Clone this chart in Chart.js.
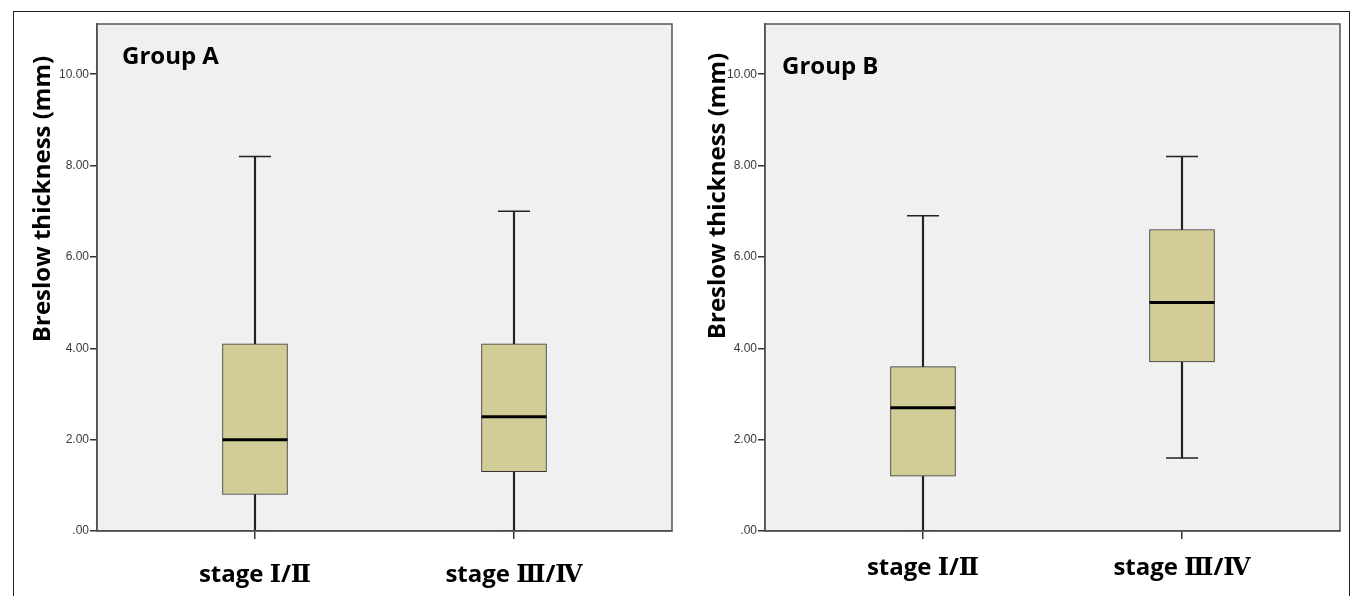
<!DOCTYPE html>
<html>
<head>
<meta charset="utf-8">
<script src="https://cdn.jsdelivr.net/npm/chart.js@4.4.1/dist/chart.umd.min.js"></script>
<style>
  html, body { margin:0; padding:0; background:#fff; width:1352px; height:596px; overflow:hidden; }
  #frame { position:absolute; left:13px; top:11px; width:1335px; height:620px;
           border-left:1px solid #222; border-top:1px solid #222; border-right:1px solid #222; }
  .wrap { position:absolute; top:0; height:596px; }
  #wa { left:0; width:690px; }
  #wb { left:690px; width:662px; }
  canvas { display:block; }
</style>
</head>
<body>
<div id="frame"></div>
<div class="wrap" id="wa"><canvas id="ca" width="690" height="596"></canvas></div>
<div class="wrap" id="wb"><canvas id="cb" width="662" height="596"></canvas></div>
<script>
// ---- data ----
const categories = ['stage Ⅰ/Ⅱ', 'stage Ⅲ/Ⅳ'];
const yTickValues = [0, 2, 4, 6, 8, 10];
const yTickLabels = ['.00', '2.00', '4.00', '6.00', '8.00', '10.00'];
const yAxisTitle = 'Breslow thickness (mm)';

const groupA_name   = 'Group A';
const groupA_min    = [0.0, 0.0];
const groupA_q1     = [0.8, 1.3];
const groupA_median = [2.0, 2.5];
const groupA_q3     = [4.1, 4.1];
const groupA_max    = [8.2, 7.0];

const groupB_name   = 'Group B';
const groupB_min    = [0.0, 1.6];
const groupB_q1     = [1.2, 3.7];
const groupB_median = [2.7, 5.0];
const groupB_q3     = [3.6, 6.6];
const groupB_max    = [6.9, 8.2];

// ---- styles ----
const BOX_FILL = '#d2cd96';
const LINE = '#222';
const PLOT_BG = '#f0f0f0';
const BOLD_FONT = "'Open Sans', 'DejaVu Serif', 'Noto Sans CJK KR', sans-serif";

function xy(vals) { return vals.map((v, i) => ({ x: i + 1, y: v })); }
function rng(a, b) { return a.map((v, i) => ({ x: i + 1, y: [v, b[i]] })); }

const panelPlugin = {
  id: 'panel',
  beforeDraw(chart) {
    const a = chart.chartArea, ctx = chart.ctx;
    ctx.save();
    ctx.fillStyle = PLOT_BG;
    ctx.fillRect(a.left, a.top, a.right - a.left, a.bottom - a.top);
    ctx.restore();
  },
  afterDraw(chart) {
    const a = chart.chartArea, ctx = chart.ctx, o = chart.options.plugins.panel;
    ctx.save();
    ctx.strokeStyle = '#555';
    ctx.lineWidth = 1.5;
    ctx.strokeRect(a.left, a.top, a.right - a.left, a.bottom - a.top);
    // group label
    ctx.fillStyle = '#000';
    ctx.font = "bold 24px " + BOLD_FONT;
    ctx.textBaseline = 'alphabetic';
    ctx.textAlign = 'left';
    ctx.fillText(o.label, a.left + o.labelDx, o.labelY);
    // y axis title
    ctx.translate(o.titleX, o.titleY);
    ctx.rotate(-Math.PI / 2);
    ctx.textAlign = 'center';
    ctx.textBaseline = 'middle';
    ctx.font = "bold 24px " + BOLD_FONT;
    ctx.fillText(yAxisTitle, 0, 0);
    ctx.restore();
  }
};

function makeChart(id, mins, q1s, meds, q3s, maxs, cfg) {
  return new Chart(document.getElementById(id), {
    type: 'bar',
    data: {
      datasets: [
        { type: 'bar', data: rng(mins, q1s), grouped: false, barThickness: 1.5,
          backgroundColor: LINE, borderWidth: 0, order: 5 },
        { type: 'bar', data: rng(q3s, maxs), grouped: false, barThickness: 1.5,
          backgroundColor: LINE, borderWidth: 0, order: 5 },
        { type: 'bar', data: rng(q1s, q3s), grouped: false, barThickness: 65,
          backgroundColor: BOX_FILL, borderColor: '#333', borderWidth: 1,
          borderSkipped: false, order: 4 },
        { type: 'scatter', data: xy(meds), pointStyle: 'line', pointRadius: 32.5,
          pointHoverRadius: 32.5, borderColor: '#000', borderWidth: 3, order: 1 },
        { type: 'scatter', data: xy(maxs), pointStyle: 'line', pointRadius: 16,
          pointHoverRadius: 16, borderColor: LINE, borderWidth: 1.5, order: 2 },
        { type: 'scatter', data: xy(mins), pointStyle: 'line', pointRadius: 16,
          pointHoverRadius: 16, borderColor: LINE, borderWidth: 1.5, order: 2 }
      ]
    },
    options: {
      responsive: false,
      animation: false,
      events: [],
      layout: { autoPadding: false, padding: { top: cfg.padTop, right: cfg.padRight, left: 0, bottom: 0 } },
      plugins: {
        legend: { display: false },
        tooltip: { enabled: false },
        panel: cfg.panel
      },
      scales: {
        x: {
          type: 'linear', min: 0.39, max: 2.61, offset: false,
          afterFit(s) { s.height = 65; },
          afterBuildTicks(s) { s.ticks = categories.map((c, i) => ({ value: i + 1 })); },
          grid: { offset: false, drawOnChartArea: false, drawTicks: true, tickLength: 8, color: '#333', lineWidth: 1.5 },
          border: { display: true, color: '#444', width: 1.5 },
          ticks: {
            autoSkip: false, maxRotation: 0, padding: cfg.xPad, color: '#000',
            font: { family: BOLD_FONT, size: 24, weight: 'bold' },
            callback: (v) => categories[Math.round(v) - 1]
          }
        },
        y: {
          min: 0, max: 11.1,
          afterFit(s) { s.width = cfg.yWidth; },
          afterBuildTicks(s) { s.ticks = yTickValues.map(v => ({ value: v })); },
          grid: { drawOnChartArea: false, drawTicks: true, tickLength: 7, color: '#333', lineWidth: 1.5 },
          border: { display: true, color: '#444', width: 1.5 },
          ticks: {
            padding: 1, color: '#3a3a3a',
            font: { family: "'Liberation Sans', Arial, sans-serif", size: 12 },
            callback: (v) => yTickLabels[yTickValues.indexOf(v)]
          }
        }
      }
    },
    plugins: [panelPlugin]
  });
}

makeChart('ca', groupA_min, groupA_q1, groupA_median, groupA_q3, groupA_max, {
  padTop: 24, padRight: 18, yWidth: 97, xPad: 22,
  panel: { label: groupA_name, labelDx: 25, labelY: 64, titleX: 43, titleY: 199 }
});
makeChart('cb', groupB_min, groupB_q1, groupB_median, groupB_q3, groupB_max, {
  padTop: 24, padRight: 12, yWidth: 75, xPad: 15,
  panel: { label: groupB_name, labelDx: 17, labelY: 74, titleX: 28, titleY: 196 }
});
</script>
</body>
</html>
